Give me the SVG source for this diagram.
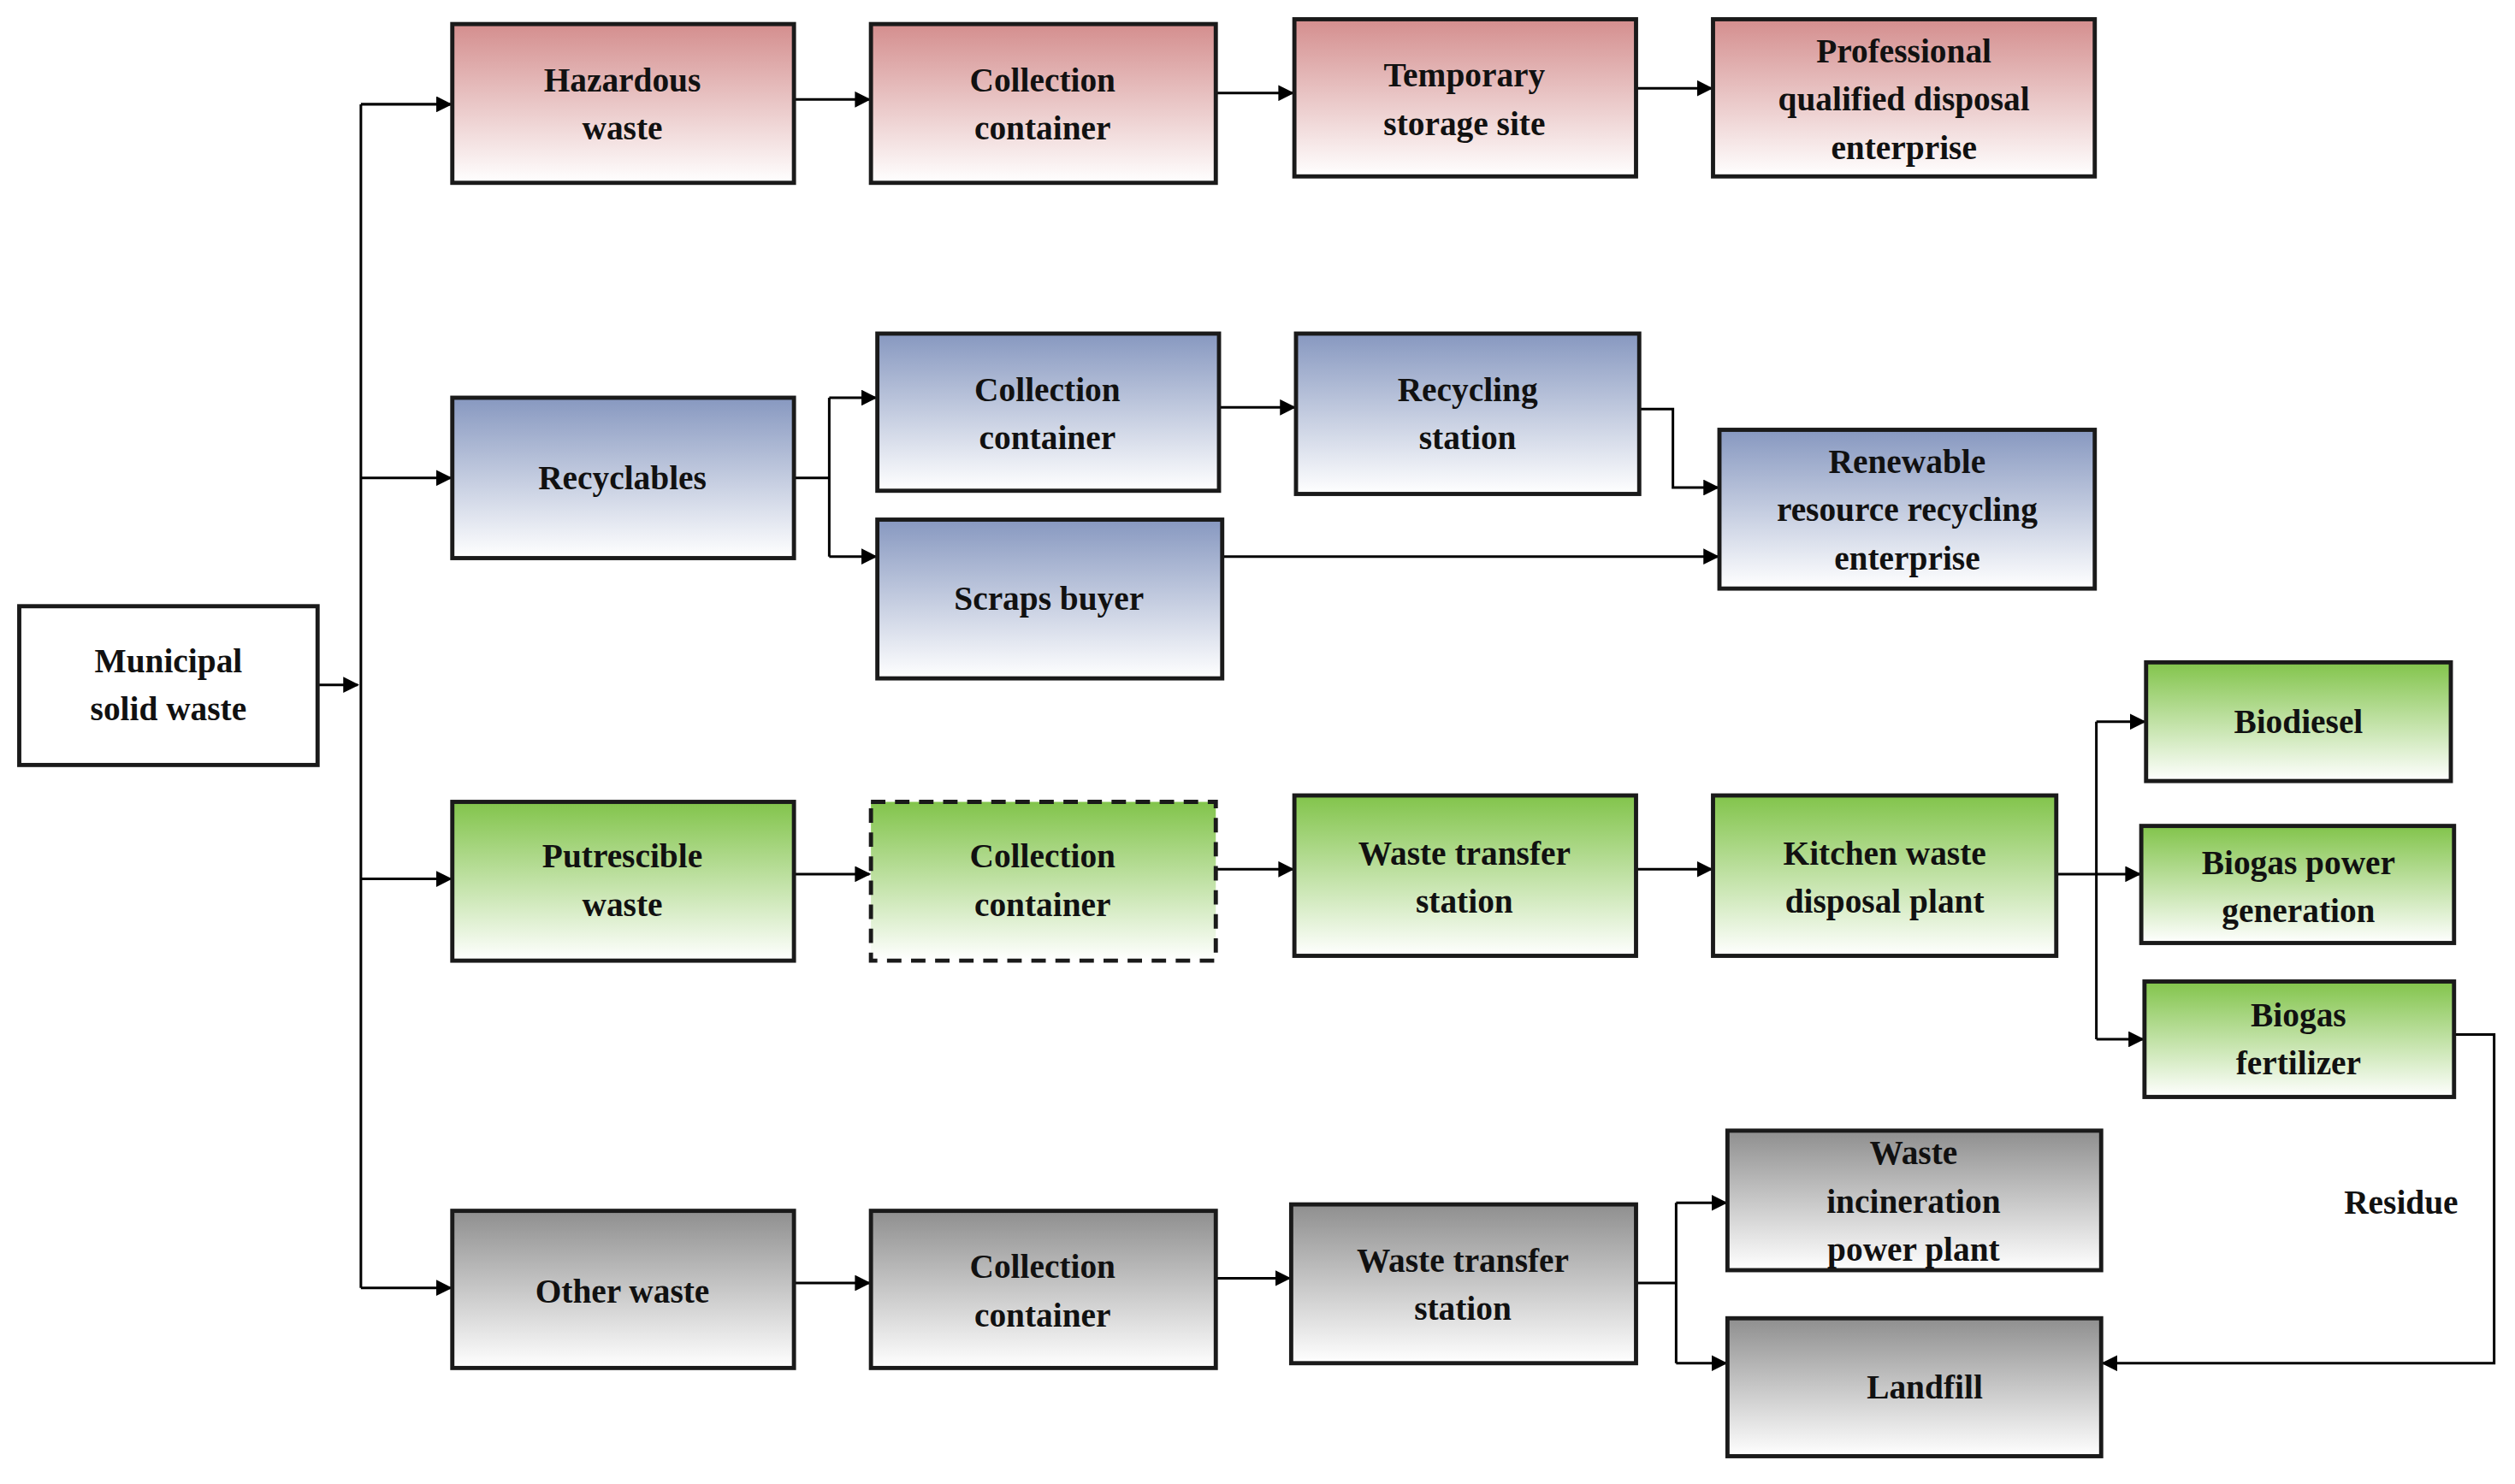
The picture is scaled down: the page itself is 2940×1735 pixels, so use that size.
<svg xmlns="http://www.w3.org/2000/svg" width="2940" height="1735" viewBox="0 0 2940 1735">
<defs>
<linearGradient id="gr" x1="0" y1="0" x2="0" y2="1"><stop offset="0" stop-color="#d48e8e"/><stop offset="1" stop-color="#ffffff"/></linearGradient>
<linearGradient id="gb" x1="0" y1="0" x2="0" y2="1"><stop offset="0" stop-color="#8798c0"/><stop offset="1" stop-color="#ffffff"/></linearGradient>
<linearGradient id="gg" x1="0" y1="0" x2="0" y2="1"><stop offset="0" stop-color="#82c44b"/><stop offset="1" stop-color="#ffffff"/></linearGradient>
<linearGradient id="gy" x1="0" y1="0" x2="0" y2="1"><stop offset="0" stop-color="#8f8f8f"/><stop offset="1" stop-color="#ffffff"/></linearGradient>
<marker id="a" markerWidth="10" markerHeight="10" refX="9" refY="5" orient="auto" markerUnits="userSpaceOnUse"><path d="M0,0 L10,5 L0,10 z" fill="#000"/></marker>
<style>
rect{stroke:#1a1a1a;stroke-width:2.6}
text{font-family:'Liberation Serif','Times New Roman','DejaVu Serif',serif;font-weight:bold;font-size:21px;text-anchor:middle;fill:#111}
.c{fill:none;stroke:#000;stroke-width:1.6}
</style>
</defs>
<rect width="2940" height="1735" fill="#fff" style="stroke:none"/>
<g transform="scale(1.875)" font-family="Liberation Serif, serif">
<g id="connectors">
<path class="c" marker-end="url(#a)" d="M198,427 H223"/>
<path class="c" d="M225,65 V803"/>
<path class="c" marker-end="url(#a)" d="M225,65 H281"/>
<path class="c" marker-end="url(#a)" d="M225,298 H281"/>
<path class="c" marker-end="url(#a)" d="M225,548 H281"/>
<path class="c" marker-end="url(#a)" d="M225,803 H281"/>
<path class="c" marker-end="url(#a)" d="M495,62 H542"/>
<path class="c" marker-end="url(#a)" d="M758,58 H806"/>
<path class="c" marker-end="url(#a)" d="M1020,55 H1067"/>
<path class="c" d="M495,298 H517 M517,248 V347"/>
<path class="c" marker-end="url(#a)" d="M517,248 H546"/>
<path class="c" marker-end="url(#a)" d="M517,347 H546"/>
<path class="c" marker-end="url(#a)" d="M760,254 H807"/>
<path class="c" marker-end="url(#a)" d="M1022,255 H1043 V304 H1071"/>
<path class="c" marker-end="url(#a)" d="M762,347 H1071"/>
<path class="c" marker-end="url(#a)" d="M495,545 H542"/>
<path class="c" marker-end="url(#a)" d="M758,542 H806"/>
<path class="c" marker-end="url(#a)" d="M1020,542 H1067"/>
<path class="c" d="M1282,545 H1307 M1307,450 V648"/>
<path class="c" marker-end="url(#a)" d="M1307,450 H1337"/>
<path class="c" marker-end="url(#a)" d="M1307,545 H1334"/>
<path class="c" marker-end="url(#a)" d="M1307,648 H1336"/>
<path class="c" marker-end="url(#a)" d="M1530,645 H1555 V850 H1311"/>
<path class="c" marker-end="url(#a)" d="M495,800 H542"/>
<path class="c" marker-end="url(#a)" d="M758,797 H804"/>
<path class="c" d="M1020,800 H1045 M1045,750 V850"/>
<path class="c" marker-end="url(#a)" d="M1045,750 H1076"/>
<path class="c" marker-end="url(#a)" d="M1045,850 H1076"/>
<text x="1497" y="757">Residue</text>
</g>
<g id="msw"><rect x="12" y="378" width="186" height="99" fill="#fff"/><text x="105" y="419">Municipal</text><text x="105" y="449">solid waste</text></g>
<g id="haz"><rect x="282" y="15" width="213" height="99" fill="url(#gr)"/><text x="388" y="57">Hazardous</text><text x="388" y="87">waste</text></g>
<g id="haz2"><rect x="543" y="15" width="215" height="99" fill="url(#gr)"/><text x="650" y="57">Collection</text><text x="650" y="87">container</text></g>
<g id="haz3"><rect x="807" y="12" width="213" height="98" fill="url(#gr)"/><text x="913" y="54">Temporary</text><text x="913" y="84">storage site</text></g>
<g id="haz4"><rect x="1068" y="12" width="238" height="98" fill="url(#gr)"/><text x="1187" y="39">Professional</text><text x="1187" y="69">qualified disposal</text><text x="1187" y="99">enterprise</text></g>
<g id="rec"><rect x="282" y="248" width="213" height="100" fill="url(#gb)"/><text x="388" y="305">Recyclables</text></g>
<g id="rec2"><rect x="547" y="208" width="213" height="98" fill="url(#gb)"/><text x="653" y="250">Collection</text><text x="653" y="280">container</text></g>
<g id="rec3"><rect x="808" y="208" width="214" height="100" fill="url(#gb)"/><text x="915" y="250">Recycling</text><text x="915" y="280">station</text></g>
<g id="rec4"><rect x="1072" y="268" width="234" height="99" fill="url(#gb)"/><text x="1189" y="295">Renewable</text><text x="1189" y="325">resource recycling</text><text x="1189" y="355">enterprise</text></g>
<g id="rec5"><rect x="547" y="324" width="215" height="99" fill="url(#gb)"/><text x="654" y="380">Scraps buyer</text></g>
<g id="put"><rect x="282" y="500" width="213" height="99" fill="url(#gg)"/><text x="388" y="541">Putrescible</text><text x="388" y="571">waste</text></g>
<g id="put2"><rect x="543" y="500" width="215" height="99" fill="url(#gg)" stroke-dasharray="9,6"/><text x="650" y="541">Collection</text><text x="650" y="571">container</text></g>
<g id="put3"><rect x="807" y="496" width="213" height="100" fill="url(#gg)"/><text x="913" y="539">Waste transfer</text><text x="913" y="569">station</text></g>
<g id="put4"><rect x="1068" y="496" width="214" height="100" fill="url(#gg)"/><text x="1175" y="539">Kitchen waste</text><text x="1175" y="569">disposal plant</text></g>
<g id="bio1"><rect x="1338" y="413" width="190" height="74" fill="url(#gg)"/><text x="1433" y="457">Biodiesel</text></g>
<g id="bio2"><rect x="1335" y="515" width="195" height="73" fill="url(#gg)"/><text x="1433" y="545">Biogas power</text><text x="1433" y="575">generation</text></g>
<g id="bio3"><rect x="1337" y="612" width="193" height="72" fill="url(#gg)"/><text x="1433" y="640">Biogas</text><text x="1433" y="670">fertilizer</text></g>
<g id="oth"><rect x="282" y="755" width="213" height="98" fill="url(#gy)"/><text x="388" y="812">Other waste</text></g>
<g id="oth2"><rect x="543" y="755" width="215" height="98" fill="url(#gy)"/><text x="650" y="797">Collection</text><text x="650" y="827">container</text></g>
<g id="oth3"><rect x="805" y="751" width="215" height="99" fill="url(#gy)"/><text x="912" y="793">Waste transfer</text><text x="912" y="823">station</text></g>
<g id="inc"><rect x="1077" y="705" width="233" height="87" fill="url(#gy)"/><text x="1193" y="726">Waste</text><text x="1193" y="756">incineration</text><text x="1193" y="786">power plant</text></g>
<g id="land"><rect x="1077" y="822" width="233" height="86" fill="url(#gy)"/><text x="1200" y="872">Landfill</text></g>
</g>
</svg>
